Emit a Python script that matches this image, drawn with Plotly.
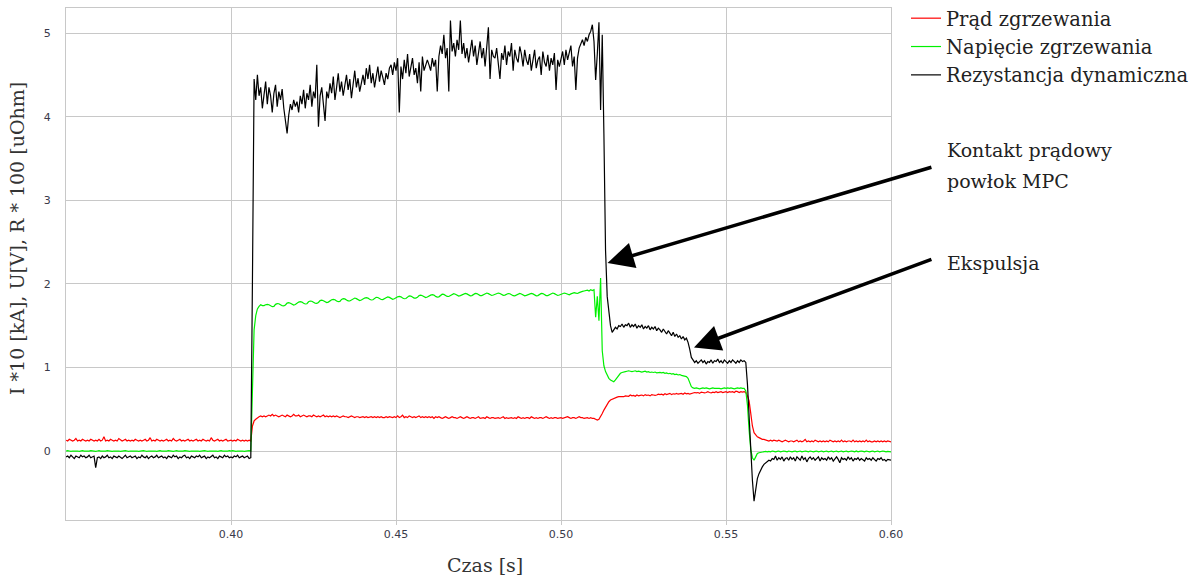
import plotly.graph_objects as go

# Sampling step of the recorded signals (s) and start time
T0 = 0.35
DT = 0.0005

# Rezystancja dynamiczna (R*100 [uOhm]) - rows of 20 samples (10 ms each)
rez_rows = [
    [-0.07,-0.06,-0.08,-0.05,-0.07,-0.09,-0.06,-0.07,-0.08,-0.05,-0.07,-0.06,-0.08,-0.07,-0.05,-0.08,-0.07,-0.06,-0.20,-0.08],
    [-0.07,-0.09,-0.06,-0.08,-0.07,-0.05,-0.08,-0.07,-0.09,-0.06,-0.07,-0.08,-0.06,-0.07,-0.09,-0.07,-0.05,-0.08,-0.07,-0.06],
    [-0.08,-0.07,-0.06,-0.09,-0.07,-0.08,-0.05,-0.07,-0.08,-0.06,-0.09,-0.07,-0.06,-0.08,-0.07,-0.05,-0.08,-0.07,-0.06,-0.08],
    [-0.07,-0.09,-0.06,-0.07,-0.08,-0.05,-0.07,-0.06,-0.09,-0.07,-0.08,-0.06,-0.05,-0.08,-0.07,-0.09,-0.06,-0.07,-0.08,-0.06],
    [-0.07,-0.05,-0.08,-0.07,-0.06,-0.09,-0.07,-0.08,-0.06,-0.05,-0.08,-0.07,-0.09,-0.06,-0.07,-0.08,-0.05,-0.07,-0.06,-0.08],
    [-0.07,-0.08,-0.06,-0.07,-0.05,-0.08,-0.07,-0.06,-0.08,-0.07,-0.06,-0.09,-0.08,2.05,4.45,4.20,4.50,4.25,4.35,4.10],
    [4.30,4.42,4.15,4.35,4.25,4.05,4.28,4.38,4.12,4.30,4.20,4.33,4.10,3.95,3.80,4.02,4.15,4.08,4.20,4.12],
    [4.18,4.05,4.25,4.15,4.32,4.10,4.28,4.20,4.38,4.12,4.30,4.22,4.62,3.88,4.25,4.35,4.15,3.95,4.30,4.22],
    [4.40,4.28,4.48,4.20,4.35,4.52,4.30,4.42,4.25,4.38,4.50,4.32,4.45,4.22,4.40,4.55,4.35,4.46,4.30,4.42],
    [4.50,4.38,4.58,4.45,4.62,4.40,4.52,4.35,4.48,4.60,4.42,4.55,4.47,4.38,4.52,4.45,4.58,4.62,4.50,4.65],
    [4.55,4.70,4.05,4.60,4.45,4.68,4.52,4.75,4.48,4.62,4.70,4.50,4.58,4.40,4.65,4.30,4.72,4.55,4.62,4.68],
    [4.62,4.55,4.70,4.60,4.68,4.30,4.72,4.85,4.75,4.98,4.70,4.82,4.30,5.15,4.78,4.88,4.72,4.92,4.80,5.15],
    [4.75,4.88,4.70,4.82,4.65,4.80,4.92,4.72,4.85,4.62,4.78,4.90,4.70,4.82,4.60,4.85,5.07,4.45,4.80,4.72],
    [4.70,4.82,4.62,4.45,4.76,4.68,4.85,4.62,4.78,4.72,4.88,4.55,4.80,4.70,4.65,4.84,4.75,4.60,4.80,4.68],
    [4.62,4.75,4.55,4.70,4.80,4.58,4.68,4.72,4.50,4.78,4.65,4.60,4.74,4.55,4.70,4.62,4.76,4.32,4.68,4.60],
    [4.70,4.78,4.62,4.80,4.68,4.75,4.85,4.60,4.72,4.32,4.70,4.82,4.88,4.92,4.85,4.95,4.90,4.98,5.02,5.10],
    [4.90,4.44,4.75,5.13,4.08,4.98,3.80,2.40,1.85,1.65,1.50,1.42,1.45,1.48,1.46,1.50,1.49,1.52,1.48,1.51],
    [1.50,1.53,1.48,1.51,1.49,1.52,1.47,1.50,1.48,1.51,1.46,1.49,1.47,1.50,1.45,1.48,1.46,1.49,1.44,1.47],
    [1.45,1.42,1.46,1.43,1.40,1.44,1.41,1.38,1.42,1.37,1.40,1.36,1.38,1.34,1.37,1.33,1.35,1.30,1.22,1.12],
    [1.09,1.06,1.08,1.05,1.07,1.09,1.06,1.08,1.04,1.07,1.06,1.09,1.05,1.08,1.07,1.10,1.06,1.08,1.05,1.09],
    [1.07,1.05,1.08,1.06,1.09,1.07,1.05,1.08,1.06,1.09,1.07,1.08,1.06,0.80,0.35,-0.05,-0.35,-0.60,-0.48,-0.33],
    [-0.27,-0.22,-0.19,-0.16,-0.14,-0.13,-0.11,-0.12,-0.09,-0.10,-0.06,-0.11,-0.08,-0.10,-0.07,-0.12,-0.09,-0.08,-0.11,-0.07],
    [-0.10,-0.08,-0.12,-0.07,-0.09,-0.11,-0.06,-0.10,-0.08,-0.13,-0.09,-0.07,-0.10,-0.08,-0.11,-0.09,-0.07,-0.12,-0.08,-0.10],
    [-0.09,-0.11,-0.07,-0.10,-0.08,-0.12,-0.09,-0.07,-0.10,-0.14,-0.08,-0.10,-0.09,-0.11,-0.07,-0.10,-0.08,-0.12,-0.09,-0.10],
    [-0.08,-0.11,-0.09,-0.10,-0.12,-0.08,-0.10,-0.09,-0.11,-0.08,-0.10,-0.12,-0.09,-0.10,-0.08,-0.11,-0.10,-0.12,-0.10,-0.11],
    [-0.11],
]

# Napięcie zgrzewania (U [V])
nap_rows = [
    [0.00,0.005,0.00,-0.005,0.00,0.00,0.005,0.00,-0.005,0.00,0.005,0.00,0.00,-0.005,0.00,0.005,0.00,0.00,-0.005,0.00],
    [0.005,0.00,0.00,-0.005,0.00,0.005,0.00,0.00,-0.005,0.00,0.00,0.005,0.00,-0.005,0.00,0.00,0.005,0.00,-0.005,0.00],
    [0.00,0.00,0.005,0.00,-0.005,0.00,0.00,0.005,0.00,-0.005,0.00,0.00,0.005,0.00,0.00,-0.005,0.00,0.005,0.00,0.00],
    [-0.005,0.00,0.005,0.00,0.00,-0.005,0.00,0.005,0.00,0.00,-0.005,0.00,0.005,0.00,0.00,-0.005,0.00,0.00,0.005,0.00],
    [0.00,-0.005,0.00,0.00,0.005,0.00,-0.005,0.00,0.00,0.005,0.00,0.00,-0.005,0.00,0.005,0.00,0.00,-0.005,0.00,0.005],
    [0.00,0.005,0.00,-0.005,0.00,0.00,0.005,0.00,-0.005,0.00,0.00,0.005,0.00,0.85,1.45,1.62,1.70,1.73,1.75,1.74],
    [1.74,1.75,1.755,1.75,1.735,1.727,1.73,1.755,1.764,1.762,1.75,1.738,1.737,1.747,1.77,1.775,1.768,1.754,1.746,1.752],
    [1.772,1.782,1.787,1.782,1.767,1.759,1.762,1.785,1.794,1.792,1.78,1.768,1.767,1.777,1.80,1.805,1.798,1.784,1.776,1.782],
    [1.80,1.81,1.815,1.81,1.795,1.787,1.79,1.813,1.822,1.82,1.808,1.796,1.795,1.805,1.825,1.83,1.823,1.809,1.801,1.807],
    [1.82,1.83,1.835,1.83,1.815,1.807,1.81,1.83,1.839,1.837,1.825,1.813,1.812,1.822,1.84,1.845,1.838,1.824,1.816,1.822],
    [1.835,1.845,1.85,1.845,1.83,1.822,1.825,1.847,1.856,1.854,1.842,1.83,1.829,1.839,1.86,1.865,1.858,1.844,1.836,1.842],
    [1.855,1.865,1.87,1.865,1.85,1.842,1.845,1.867,1.876,1.874,1.862,1.85,1.849,1.859,1.878,1.883,1.876,1.862,1.854,1.86],
    [1.87,1.88,1.885,1.88,1.865,1.857,1.86,1.877,1.886,1.884,1.872,1.86,1.859,1.869,1.885,1.89,1.883,1.869,1.861,1.867],
    [1.875,1.885,1.89,1.885,1.87,1.862,1.865,1.875,1.884,1.882,1.87,1.858,1.857,1.867,1.88,1.885,1.878,1.864,1.856,1.862],
    [1.87,1.88,1.885,1.88,1.865,1.857,1.86,1.877,1.886,1.884,1.872,1.86,1.859,1.869,1.885,1.89,1.883,1.869,1.861,1.867],
    [1.875,1.885,1.89,1.885,1.875,1.87,1.88,1.89,1.895,1.89,1.885,1.895,1.905,1.91,1.915,1.92,1.925,1.915,1.93,1.92],
    [1.93,1.60,1.85,1.56,2.07,1.20,1.02,0.95,0.90,0.87,0.85,0.84,0.83,0.85,0.88,0.91,0.93,0.94,0.95,0.95],
    [0.955,0.96,0.955,0.95,0.955,0.96,0.95,0.955,0.95,0.945,0.95,0.955,0.945,0.95,0.94,0.945,0.94,0.945,0.935,0.94],
    [0.94,0.935,0.94,0.93,0.935,0.925,0.93,0.92,0.925,0.915,0.92,0.91,0.915,0.905,0.90,0.895,0.89,0.87,0.82,0.77],
    [0.755,0.75,0.755,0.75,0.745,0.75,0.755,0.75,0.755,0.75,0.745,0.75,0.755,0.75,0.75,0.755,0.75,0.745,0.75,0.755],
    [0.75,0.755,0.75,0.755,0.75,0.745,0.75,0.755,0.75,0.755,0.75,0.75,0.72,0.55,0.25,0.02,-0.08,-0.11,-0.07,-0.03],
    [-0.02,-0.015,-0.01,-0.01,-0.005,-0.01,-0.005,-0.01,0.00,-0.005,-0.01,-0.005,0.00,-0.01,-0.005,0.00,-0.005,-0.01,0.00,-0.005],
    [-0.01,-0.005,0.00,-0.01,-0.005,0.00,-0.01,-0.005,0.00,-0.005,-0.01,0.00,-0.005,-0.01,-0.005,0.00,-0.01,-0.005,0.00,-0.01],
    [-0.005,0.00,-0.01,-0.005,0.00,-0.01,-0.005,0.00,-0.01,-0.005,0.00,-0.01,-0.005,0.00,-0.01,-0.005,0.00,-0.005,-0.01,0.00],
    [-0.01,-0.005,0.00,-0.005,-0.01,0.00,-0.005,-0.01,-0.005,0.00,-0.01,-0.005,0.00,-0.01,-0.005,0.00,-0.005,-0.01,-0.005,-0.01],
    [-0.01],
]

# Prąd zgrzewania (I*10 [kA])
prad_rows = [
    [0.13,0.12,0.14,0.13,0.12,0.13,0.15,0.12,0.13,0.12,0.14,0.13,0.12,0.13,0.12,0.14,0.13,0.12,0.13,0.12],
    [0.14,0.12,0.13,0.17,0.12,0.13,0.12,0.14,0.13,0.12,0.13,0.12,0.15,0.13,0.12,0.13,0.14,0.12,0.13,0.12],
    [0.13,0.12,0.14,0.13,0.12,0.13,0.12,0.13,0.14,0.12,0.13,0.16,0.12,0.13,0.12,0.14,0.13,0.12,0.13,0.12],
    [0.13,0.14,0.12,0.13,0.12,0.15,0.13,0.12,0.13,0.14,0.12,0.13,0.12,0.13,0.14,0.12,0.13,0.12,0.13,0.14],
    [0.12,0.13,0.12,0.14,0.13,0.12,0.13,0.12,0.16,0.13,0.12,0.13,0.14,0.12,0.13,0.12,0.13,0.14,0.12,0.13],
    [0.13,0.12,0.13,0.12,0.14,0.13,0.12,0.13,0.12,0.13,0.12,0.13,0.12,0.30,0.36,0.38,0.40,0.41,0.42,0.41],
    [0.42,0.41,0.42,0.43,0.42,0.44,0.42,0.43,0.42,0.41,0.42,0.43,0.42,0.41,0.43,0.42,0.41,0.42,0.44,0.42],
    [0.42,0.43,0.41,0.42,0.43,0.42,0.41,0.42,0.42,0.41,0.43,0.42,0.41,0.42,0.41,0.42,0.43,0.41,0.42,0.41],
    [0.42,0.41,0.42,0.41,0.42,0.41,0.40,0.41,0.42,0.41,0.41,0.40,0.41,0.42,0.41,0.40,0.41,0.41,0.40,0.41],
    [0.41,0.40,0.41,0.40,0.41,0.41,0.40,0.41,0.40,0.41,0.40,0.41,0.40,0.40,0.41,0.40,0.41,0.40,0.40,0.41],
    [0.40,0.42,0.40,0.41,0.43,0.40,0.41,0.40,0.42,0.41,0.40,0.41,0.40,0.41,0.42,0.40,0.41,0.40,0.41,0.40],
    [0.41,0.40,0.41,0.39,0.41,0.40,0.41,0.40,0.39,0.40,0.41,0.40,0.39,0.40,0.41,0.40,0.40,0.39,0.40,0.41],
    [0.40,0.39,0.40,0.41,0.40,0.39,0.40,0.40,0.39,0.40,0.41,0.39,0.40,0.40,0.39,0.41,0.40,0.39,0.40,0.40],
    [0.39,0.40,0.40,0.39,0.40,0.41,0.39,0.40,0.39,0.40,0.40,0.39,0.40,0.39,0.41,0.40,0.39,0.40,0.39,0.40],
    [0.40,0.39,0.41,0.40,0.39,0.40,0.39,0.40,0.40,0.39,0.40,0.41,0.40,0.39,0.40,0.39,0.40,0.40,0.39,0.40],
    [0.40,0.39,0.40,0.40,0.41,0.40,0.39,0.40,0.40,0.39,0.40,0.41,0.40,0.40,0.39,0.40,0.40,0.39,0.40,0.39],
    [0.39,0.38,0.37,0.38,0.41,0.45,0.49,0.53,0.57,0.59,0.61,0.62,0.63,0.64,0.645,0.65,0.65,0.655,0.65,0.66],
    [0.66,0.655,0.67,0.66,0.665,0.655,0.67,0.66,0.665,0.67,0.66,0.675,0.665,0.67,0.66,0.675,0.67,0.665,0.67,0.68],
    [0.675,0.68,0.67,0.685,0.675,0.68,0.69,0.675,0.685,0.68,0.69,0.68,0.685,0.69,0.68,0.695,0.685,0.69,0.68,0.69],
    [0.69,0.70,0.695,0.70,0.69,0.705,0.70,0.695,0.70,0.71,0.70,0.695,0.705,0.70,0.71,0.70,0.705,0.71,0.70,0.705],
    [0.71,0.70,0.71,0.705,0.71,0.70,0.715,0.71,0.70,0.71,0.705,0.71,0.70,0.66,0.60,0.45,0.30,0.22,0.19,0.17],
    [0.16,0.15,0.14,0.14,0.13,0.13,0.12,0.13,0.12,0.13,0.12,0.12,0.13,0.12,0.11,0.12,0.13,0.12,0.11,0.12],
    [0.12,0.11,0.12,0.13,0.11,0.12,0.11,0.12,0.14,0.11,0.12,0.11,0.12,0.11,0.13,0.12,0.11,0.12,0.11,0.12],
    [0.11,0.12,0.11,0.13,0.12,0.11,0.12,0.11,0.12,0.11,0.13,0.11,0.12,0.11,0.12,0.12,0.11,0.13,0.11,0.12],
    [0.11,0.12,0.11,0.12,0.11,0.13,0.11,0.12,0.11,0.11,0.12,0.11,0.12,0.11,0.12,0.11,0.12,0.11,0.12,0.11],
    [0.11],
]

series_names = ["Prąd zgrzewania", "Napięcie zgrzewania", "Rezystancja dynamiczna"]
x_ticks = [0.40, 0.45, 0.50, 0.55, 0.60]
y_ticks = [0, 1, 2, 3, 4, 5]


def flatten(rows):
    return [v for row in rows for v in row]


def times(n):
    return [round(T0 + DT * i, 4) for i in range(n)]


prad = flatten(prad_rows)
nap = flatten(nap_rows)
rez = flatten(rez_rows)

fig = go.Figure()
for name, vals, color in [
    (series_names[0], prad, "#ff0000"),
    (series_names[1], nap, "#00f000"),
    (series_names[2], rez, "#000000"),
]:
    fig.add_trace(go.Scatter(x=times(len(vals)), y=vals, mode="lines", name=name,
                             line=dict(color=color, width=1.2)))

SERIF = "DejaVu Serif"
FS = 19
W, H = 1196, 577
L, R, T, B = 66, 891, 8, 520


def px(xp):
    return (xp - L) / (R - L)


def py(yp):
    return (B - yp) / (B - T)


axis_common = dict(showgrid=True, gridcolor="#c8c8c8", gridwidth=1,
                   showline=True, linecolor="#c8c8c8", linewidth=1, mirror=True,
                   zeroline=False, tickfont=dict(family="DejaVu Sans", size=11, color="#3a3a4a"))

fig.update_xaxes(range=[0.35, 0.60], tickvals=x_ticks, tickformat=".2f",
                 ticks="outside", ticklen=4, tickcolor="#c8c8c8", **axis_common)
fig.update_yaxes(range=[-0.825, 5.30], tickvals=y_ticks, ticks="", ticklabelstandoff=12,
                 **axis_common)


def label(text, x, y, color="#222", **kw):
    return dict(text=text, x=px(x), y=py(y), xref="paper", yref="paper",
                yanchor="middle", showarrow=False,
                font=dict(family=SERIF, size=FS, color=color), **kw)


annotations = [
    label("I *10 [kA], U[V], R * 100 [uOhm]", 17, 239, color="#333", xanchor="center", textangle=-90),
    label("Czas [s]", 485, 565, color="#333", xanchor="center"),
    label("Kontakt prądowy", 945, 150, xanchor="left"),
    label("powłok MPC", 945, 181, xanchor="left"),
    label("Ekspulsja", 945, 263, xanchor="left"),
    # arrows
    dict(x=0.5141, y=2.25, ax=0.6127, ay=3.40, xref="x", yref="y", axref="x", ayref="y",
         text="", showarrow=True, arrowhead=2, arrowsize=1.5, arrowwidth=3.5, arrowcolor="#000"),
    dict(x=0.5403, y=1.24, ax=0.6127, ay=2.30, xref="x", yref="y", axref="x", ayref="y",
         text="", showarrow=True, arrowhead=2, arrowsize=1.5, arrowwidth=3.5, arrowcolor="#000"),
]

fig.update_layout(
    width=W, height=H,
    margin=dict(l=L, r=W - R, t=T, b=H - B, pad=0, autoexpand=False),
    paper_bgcolor="white", plot_bgcolor="white",
    showlegend=True,
    legend=dict(x=px(906), y=py(-1), xanchor="left", yanchor="top", itemwidth=30,
                font=dict(family=SERIF, size=19.5, color="#222"), bgcolor="rgba(0,0,0,0)",
                tracegroupgap=0),
    annotations=annotations,
)

fig.write_html("out.html", config={"displayModeBar": False},
               post_script="document.body.style.margin='0';")
